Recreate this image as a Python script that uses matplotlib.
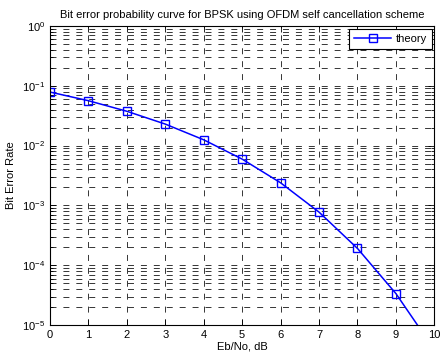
import matplotlib
matplotlib.use("Agg")
import matplotlib.pyplot as plt
import numpy as np

# values
ebno_db = [0, 1, 2, 3, 4, 5, 6, 7, 8, 9, 10]
ber = [7.86e-2, 5.63e-2, 3.75e-2, 2.29e-2, 1.25e-2, 5.95e-3, 2.39e-3,
       7.73e-4, 1.91e-4, 3.36e-5, 3.87e-6]

plt.rcParams['font.family'] = ['Liberation Sans', 'DejaVu Sans']
plt.rcParams['lines.scale_dashes'] = False
plt.rcParams['mathtext.fontset'] = 'custom'
plt.rcParams['mathtext.rm'] = 'Liberation Sans'

fig = plt.figure(figsize=(4.41, 3.6), dpi=100)
ax = fig.add_axes([0.113, 0.097, 0.872, 0.831])

ax.semilogy(ebno_db, ber, color='#0000ff', linewidth=1.1, marker='s',
            markersize=5.5, markerfacecolor='none', markeredgewidth=1.0,
            label='theory', clip_on=True)

ax.set_xlim(0, 10)
ax.set_ylim(1e-5, 1)
ax.set_xticks(range(0, 11))

# MATLAB-style dotted grid renders as short dashes at this size
grid_style = (0, (4.3, 5))
ax.grid(True, which='major', axis='both', color='black', linewidth=0.55,
        linestyle=grid_style)
ax.grid(True, which='minor', axis='y', color='black', linewidth=0.55,
        linestyle=grid_style)

ax.tick_params(which='both', direction='in', top=True, right=True,
               labelsize=8, width=0.6)
ax.tick_params(which='major', length=4)
ax.tick_params(which='minor', length=2.5)
for sp in ax.spines.values():
    sp.set_linewidth(0.8)

ax.set_title('Bit error probability curve for BPSK using OFDM self cancellation scheme',
             fontsize=8, pad=6)
ax.set_xlabel('Eb/No, dB', fontsize=8, labelpad=1)
ax.set_ylabel('Bit Error Rate', fontsize=8, labelpad=4)

leg = ax.legend(loc='upper right', fontsize=8, fancybox=False, framealpha=1,
                edgecolor='black', handlelength=3.3, handletextpad=0.4,
                borderaxespad=0.25, borderpad=0.45)
leg.get_frame().set_linewidth(0.8)

fig.savefig('out.png', dpi=100)
